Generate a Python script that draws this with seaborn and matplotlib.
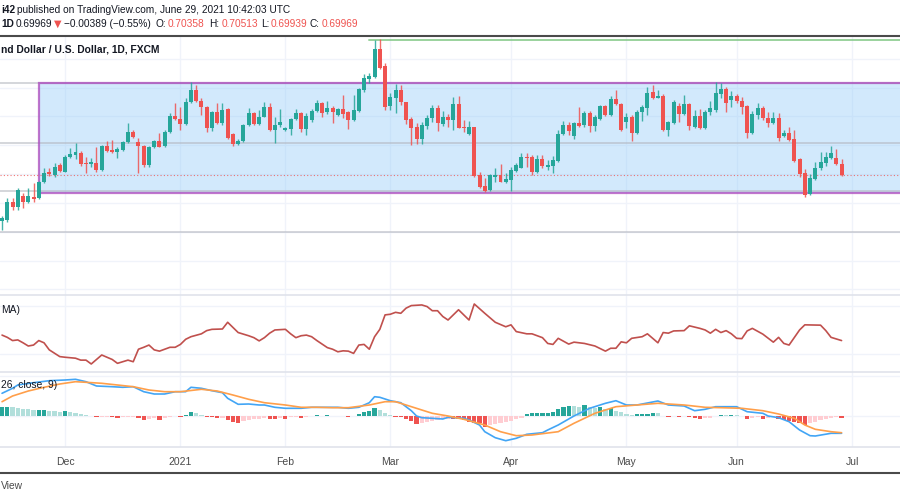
import matplotlib
matplotlib.use("Agg")
import matplotlib.pyplot as plt
from matplotlib.patches import Rectangle
from matplotlib.lines import Line2D
import numpy as np
import pandas as pd
import seaborn as sns

# ---- daily candles NZD/USD (FXCM) ----
opens = [
    0.6837, 0.6841, 0.6903, 0.6886, 0.6924, 0.6903, 0.6920, 0.6917, 0.6972, 0.7007,
    0.6997, 0.7031, 0.7007, 0.7059, 0.7066, 0.7073, 0.7038, 0.7035, 0.7038, 0.7014,
    0.7097, 0.7084, 0.7077, 0.7084, 0.7111, 0.7146, 0.7111, 0.7097, 0.7031, 0.7094,
    0.7115, 0.7097, 0.7146, 0.7201, 0.7191, 0.7174, 0.7250, 0.7292, 0.7254, 0.7233,
    0.7160, 0.7215, 0.7177, 0.7226, 0.7139, 0.7104, 0.7115, 0.7170, 0.7212, 0.7174,
    0.7198, 0.7233, 0.7153, 0.7170, 0.7153, 0.7156, 0.7191, 0.7212, 0.7156, 0.7188,
    0.7219, 0.7247, 0.7215, 0.7229, 0.7205, 0.7226, 0.7215, 0.7188, 0.7219, 0.7292,
    0.7330, 0.7337, 0.7434, 0.7375, 0.7236, 0.7264, 0.7292, 0.7250, 0.7191, 0.7163,
    0.7122, 0.7167, 0.7195, 0.7229, 0.7174, 0.7198, 0.7188, 0.7243, 0.7163, 0.7139,
    0.7163, 0.6997, 0.6959, 0.6945, 0.6990, 0.6997, 0.6972, 0.6979, 0.7011, 0.7021,
    0.7059, 0.7059, 0.7007, 0.7052, 0.7025, 0.7028, 0.7045, 0.7139, 0.7170, 0.7132,
    0.7177, 0.7170, 0.7212, 0.7167, 0.7191, 0.7236, 0.7205, 0.7260, 0.7243, 0.7181,
    0.7198, 0.7142, 0.7215, 0.7229, 0.7285, 0.7264, 0.7271, 0.7153, 0.7177, 0.7236,
    0.7208, 0.7243, 0.7163, 0.7201, 0.7160, 0.7215, 0.7222, 0.7278, 0.7295, 0.7257,
    0.7271, 0.7254, 0.7236, 0.7142, 0.7205, 0.7229, 0.7195, 0.7177, 0.7195, 0.7132,
    0.7142, 0.7122, 0.7052, 0.7004, 0.6931, 0.6983, 0.7021, 0.7038, 0.7056, 0.7056,
    0.70358,
]
highs = [
    0.6854, 0.6917, 0.6917, 0.6952, 0.6934, 0.6952, 0.6969, 0.6976, 0.7021, 0.7021,
    0.7038, 0.7038, 0.7066, 0.7090, 0.7108, 0.7080, 0.7059, 0.7056, 0.7094, 0.7101,
    0.7115, 0.7118, 0.7094, 0.7115, 0.7177, 0.7153, 0.7125, 0.7101, 0.7097, 0.7118,
    0.7142, 0.7153, 0.7212, 0.7247, 0.7233, 0.7264, 0.7319, 0.7309, 0.7264, 0.7236,
    0.7219, 0.7247, 0.7247, 0.7229, 0.7142, 0.7122, 0.7174, 0.7229, 0.7215, 0.7222,
    0.7250, 0.7247, 0.7198, 0.7226, 0.7163, 0.7195, 0.7226, 0.7215, 0.7212, 0.7226,
    0.7257, 0.7250, 0.7254, 0.7236, 0.7229, 0.7274, 0.7219, 0.7274, 0.7299, 0.7347,
    0.7351, 0.7465, 0.7469, 0.7385, 0.7281, 0.7313, 0.7309, 0.7250, 0.7198, 0.7177,
    0.7181, 0.7205, 0.7240, 0.7240, 0.7219, 0.7208, 0.7267, 0.7271, 0.7188, 0.7184,
    0.7163, 0.7007, 0.6986, 0.7000, 0.7021, 0.7035, 0.7004, 0.7025, 0.7038, 0.7073,
    0.7073, 0.7066, 0.7066, 0.7066, 0.7049, 0.7063, 0.7153, 0.7184, 0.7181, 0.7181,
    0.7233, 0.7219, 0.7219, 0.7205, 0.7240, 0.7240, 0.7271, 0.7292, 0.7247, 0.7212,
    0.7205, 0.7222, 0.7240, 0.7302, 0.7309, 0.7292, 0.7278, 0.7184, 0.7257, 0.7247,
    0.7274, 0.7247, 0.7222, 0.7226, 0.7222, 0.7254, 0.7319, 0.7316, 0.7302, 0.7288,
    0.7278, 0.7267, 0.7240, 0.7219, 0.7247, 0.7236, 0.7215, 0.7215, 0.7212, 0.7153,
    0.7163, 0.7153, 0.7056, 0.7018, 0.7000, 0.7042, 0.7077, 0.7077, 0.7097, 0.7087,
    0.70513,
]
lows = [
    0.6806, 0.6834, 0.6875, 0.6875, 0.6882, 0.6900, 0.6903, 0.6913, 0.6969, 0.6993,
    0.6990, 0.7007, 0.7007, 0.7056, 0.7052, 0.7028, 0.7004, 0.7025, 0.7007, 0.7011,
    0.7077, 0.7073, 0.7056, 0.7080, 0.7108, 0.7125, 0.7004, 0.7025, 0.7025, 0.7090,
    0.7094, 0.7094, 0.7142, 0.7188, 0.7153, 0.7170, 0.7247, 0.7250, 0.7205, 0.7146,
    0.7149, 0.7174, 0.7170, 0.7122, 0.7097, 0.7101, 0.7111, 0.7167, 0.7170, 0.7170,
    0.7198, 0.7149, 0.7108, 0.7163, 0.7149, 0.7136, 0.7188, 0.7146, 0.7136, 0.7181,
    0.7215, 0.7198, 0.7208, 0.7177, 0.7201, 0.7195, 0.7156, 0.7184, 0.7215, 0.7285,
    0.7316, 0.7333, 0.7365, 0.7222, 0.7222, 0.7212, 0.7240, 0.7174, 0.7101, 0.7104,
    0.7104, 0.7156, 0.7181, 0.7149, 0.7167, 0.7163, 0.7153, 0.7160, 0.7146, 0.7136,
    0.6990, 0.6952, 0.6938, 0.6941, 0.6972, 0.6972, 0.6969, 0.6941, 0.7007, 0.7021,
    0.7025, 0.6997, 0.7004, 0.7021, 0.7014, 0.7004, 0.7042, 0.7136, 0.7136, 0.7122,
    0.7163, 0.7163, 0.7146, 0.7149, 0.7188, 0.7201, 0.7201, 0.7240, 0.7149, 0.7160,
    0.7115, 0.7139, 0.7184, 0.7205, 0.7260, 0.7264, 0.7149, 0.7132, 0.7174, 0.7181,
    0.7205, 0.7153, 0.7160, 0.7156, 0.7156, 0.7205, 0.7215, 0.7264, 0.7215, 0.7233,
    0.7247, 0.7208, 0.7125, 0.7139, 0.7191, 0.7188, 0.7163, 0.7174, 0.7115, 0.7129,
    0.7115, 0.7042, 0.6990, 0.6920, 0.6927, 0.6979, 0.7014, 0.7028, 0.7052, 0.7031,
    0.69939,
]
closes = [
    0.6848, 0.6903, 0.6886, 0.6945, 0.6903, 0.6924, 0.6913, 0.6972, 0.7004, 0.7000,
    0.7025, 0.7011, 0.7059, 0.7070, 0.7077, 0.7035, 0.7035, 0.7042, 0.7014, 0.7097,
    0.7080, 0.7077, 0.7087, 0.7111, 0.7146, 0.7129, 0.7097, 0.7031, 0.7094, 0.7115,
    0.7094, 0.7146, 0.7201, 0.7191, 0.7174, 0.7250, 0.7292, 0.7254, 0.7233, 0.7160,
    0.7215, 0.7177, 0.7222, 0.7125, 0.7104, 0.7115, 0.7170, 0.7212, 0.7174, 0.7198,
    0.7233, 0.7153, 0.7170, 0.7181, 0.7160, 0.7191, 0.7212, 0.7156, 0.7201, 0.7219,
    0.7247, 0.7212, 0.7229, 0.7215, 0.7226, 0.7208, 0.7188, 0.7222, 0.7295, 0.7333,
    0.7340, 0.7434, 0.7368, 0.7233, 0.7267, 0.7292, 0.7250, 0.7188, 0.7160, 0.7122,
    0.7170, 0.7195, 0.7229, 0.7177, 0.7198, 0.7188, 0.7243, 0.7160, 0.7160, 0.7163,
    0.6993, 0.6955, 0.6941, 0.6997, 0.6997, 0.6972, 0.6983, 0.7014, 0.7031, 0.7059,
    0.7056, 0.7007, 0.7052, 0.7028, 0.7031, 0.7049, 0.7139, 0.7170, 0.7149, 0.7177,
    0.7167, 0.7212, 0.7167, 0.7198, 0.7236, 0.7205, 0.7260, 0.7243, 0.7153, 0.7198,
    0.7142, 0.7215, 0.7233, 0.7281, 0.7264, 0.7271, 0.7153, 0.7181, 0.7250, 0.7208,
    0.7243, 0.7167, 0.7201, 0.7160, 0.7215, 0.7229, 0.7281, 0.7295, 0.7247, 0.7271,
    0.7254, 0.7233, 0.7142, 0.7208, 0.7229, 0.7195, 0.7177, 0.7195, 0.7125, 0.7142,
    0.7118, 0.7045, 0.7000, 0.6927, 0.6986, 0.7021, 0.7042, 0.7059, 0.7073, 0.7035,
    0.69969,
]

# ---- ATR (14, RMA) line, vertices (bar number, value) ----
atr_bar = [0, 1, 2, 3, 4, 5, 6, 7, 8, 9, 11, 12, 14, 15, 16, 17, 18, 19, 21, 22,
           23, 24, 25, 26, 27, 28, 29, 30, 31, 32, 33, 34, 35, 36, 38, 39, 40, 42, 43, 44,
           45, 47, 48, 49, 50, 51, 52, 54, 55, 56, 57, 58, 59, 60, 61, 62, 63, 64, 65, 66,
           67, 68, 69, 70, 71, 72, 73, 74, 75, 76, 77, 78, 80, 81, 82, 83, 84, 85, 87, 89,
           90, 92, 94, 96, 97, 98, 100, 101, 103, 104, 105, 106, 108, 109, 111, 113, 115, 116, 117, 118,
           119, 120, 122, 123, 125, 126, 127, 128, 130, 131, 133, 134, 135, 136, 137, 138, 139, 140, 141, 142,
           143, 145, 147, 148, 149, 150, 152, 153, 156, 157, 158, 160]
atr_val = [0.00659, 0.00652, 0.00642, 0.00644, 0.00635, 0.00625, 0.00628, 0.00642, 0.00635, 0.00613,
           0.00592, 0.00590, 0.00587, 0.00581, 0.00581, 0.00569, 0.00583, 0.00597, 0.00583, 0.00571,
           0.00576, 0.00581, 0.00576, 0.00615, 0.00621, 0.00628, 0.00613, 0.00609, 0.00615, 0.00621,
           0.00621, 0.00630, 0.00646, 0.00654, 0.00663, 0.00673, 0.00677, 0.00678, 0.00699, 0.00683,
           0.00667, 0.00657, 0.00651, 0.00641, 0.00651, 0.00665, 0.00675, 0.00677, 0.00663, 0.00651,
           0.00657, 0.00659, 0.00654, 0.00642, 0.00631, 0.00620, 0.00615, 0.00607, 0.00610, 0.00609,
           0.00602, 0.00628, 0.00630, 0.00615, 0.00654, 0.00677, 0.00722, 0.00724, 0.00730, 0.00727,
           0.00743, 0.00751, 0.00753, 0.00748, 0.00735, 0.00735, 0.00717, 0.00706, 0.00738, 0.00706,
           0.00756, 0.00727, 0.00699, 0.00685, 0.00691, 0.00670, 0.00663, 0.00663, 0.00651, 0.00633,
           0.00630, 0.00649, 0.00631, 0.00637, 0.00633, 0.00625, 0.00609, 0.00618, 0.00618, 0.00638,
           0.00635, 0.00649, 0.00654, 0.00663, 0.00635, 0.00667, 0.00665, 0.00672, 0.00673, 0.00688,
           0.00680, 0.00675, 0.00665, 0.00677, 0.00667, 0.00673, 0.00663, 0.00649, 0.00648, 0.00672,
           0.00680, 0.00662, 0.00637, 0.00652, 0.00633, 0.00628, 0.00675, 0.00691, 0.00690, 0.00673,
           0.00652, 0.00642]

# ---- MACD (12, 26, close, 9) ----
macd_bar = [0, 2, 3, 6, 9, 12, 14, 16, 18, 21, 23, 25, 27, 29, 31, 33, 35, 36, 38, 40,
            42, 43, 45, 47, 49, 50, 52, 54, 57, 59, 61, 64, 66, 68, 70, 71, 72, 74, 76, 78,
            79, 80, 82, 84, 85, 88, 89, 91, 92, 94, 96, 98, 100, 103, 104, 106, 109, 112, 115, 117,
            119, 121, 125, 127, 130, 132, 134, 136, 140, 142, 145, 146, 148, 150, 152, 154, 155, 158, 160]
macd_val = [0.00227, 0.00277, 0.00310, 0.00333, 0.00353, 0.00360, 0.00367, 0.00343, 0.00300, 0.00293,
            0.00287, 0.00293, 0.00243, 0.00220, 0.00220, 0.00243, 0.00243, 0.00287, 0.00277, 0.00253,
            0.00233, 0.00177, 0.00117, 0.00120, 0.00110, 0.00110, 0.00087, 0.00077, 0.00077, 0.00087,
            0.00087, 0.00087, 0.00077, 0.00087, 0.00133, 0.00193, 0.00187, 0.00153, 0.00133, 0.00053,
            0.00000, -0.00017, -0.00023, -0.00030, -0.00013, -0.00023, -0.00040, -0.00090, -0.00157, -0.00217,
            -0.00247, -0.00223, -0.00183, -0.00167, -0.00140, -0.00090, 0.00000, 0.00077, 0.00127, 0.00153,
            0.00110, 0.00110, 0.00150, 0.00110, 0.00100, 0.00053, 0.00067, 0.00093, 0.00093, 0.00043,
            0.00027, 0.00000, -0.00017, -0.00057, -0.00140, -0.00197, -0.00200, -0.00173, -0.00173]
signal_bar = [0, 2, 5, 8, 11, 14, 16, 19, 22, 25, 28, 31, 34, 38, 41, 44, 47, 50, 54, 57,
              60, 63, 66, 70, 73, 75, 77, 80, 82, 85, 88, 92, 95, 98, 101, 106, 109, 113, 117, 121,
              125, 130, 134, 137, 141, 145, 148, 151, 153, 155, 158, 160]
signal_val = [0.00143, 0.00200, 0.00250, 0.00287, 0.00320, 0.00343, 0.00337, 0.00327, 0.00310, 0.00293,
              0.00260, 0.00243, 0.00243, 0.00267, 0.00250, 0.00210, 0.00167, 0.00133, 0.00110, 0.00087,
              0.00087, 0.00083, 0.00083, 0.00110, 0.00143, 0.00143, 0.00110, 0.00060, 0.00027, 0.00000,
              -0.00033, -0.00090, -0.00157, -0.00197, -0.00190, -0.00157, -0.00073, 0.00027, 0.00093, 0.00110,
              0.00127, 0.00110, 0.00087, 0.00083, 0.00077, 0.00053, 0.00020, -0.00023, -0.00090, -0.00133,
              -0.00157, -0.00167]
hist = [
    0.00087, 0.00093, 0.00087, 0.00080, 0.00073, 0.00070, 0.00058, 0.00060, 0.00062, 0.00053,
    0.00050, 0.00043, 0.00050, 0.00040, 0.00030, 0.00017, 0.00007, -0.00003, -0.00013, -0.00010,
    -0.00007, -0.00013, -0.00017, -0.00010, -0.00007, -0.00006, -0.00020, -0.00040, -0.00033, -0.00023,
    -0.00037, -0.00020, -0.00007, -0.00003, -0.00007, 0.00013, 0.00043, 0.00033, 0.00013, -0.00007,
    -0.00010, -0.00020, -0.00017, -0.00040, -0.00060, -0.00073, -0.00050, -0.00040, -0.00033, -0.00027,
    -0.00023, -0.00030, -0.00032, -0.00017, -0.00027, -0.00013, -0.00010, -0.00017, -0.00007, -0.00003,
    0.00007, 0.00003, 0.00007, 0.00003, 0.00001, -0.00003, -0.00010, -0.00003, 0.00020, 0.00043,
    0.00053, 0.00077, 0.00060, 0.00030, 0.00013, -0.00007, -0.00010, -0.00027, -0.00047, -0.00080,
    -0.00073, -0.00057, -0.00047, -0.00040, -0.00033, -0.00027, -0.00030, -0.00033, -0.00040, -0.00057,
    -0.00067, -0.00073, -0.00107, -0.00090, -0.00083, -0.00073, -0.00063, -0.00050, -0.00033, -0.00017,
    0.00020, 0.00027, 0.00030, 0.00031, 0.00033, 0.00043, 0.00067, 0.00093, 0.00100, 0.00097,
    0.00087, 0.00110, 0.00087, 0.00077, 0.00093, 0.00073, 0.00077, 0.00053, 0.00043, 0.00020,
    0.00007, 0.00017, 0.00018, 0.00020, 0.00033, 0.00030, -0.00003, -0.00010, -0.00003, -0.00010,
    -0.00003, -0.00013, -0.00017, -0.00030, -0.00023, -0.00017, -0.00003, 0.00013, 0.00010, 0.00013,
    0.00007, -0.00003, -0.00027, -0.00023, -0.00007, -0.00027, -0.00023, -0.00007, -0.00033, -0.00040,
    -0.00050, -0.00057, -0.00073, -0.00090, -0.00073, -0.00057, -0.00040, -0.00027, -0.00017, -0.00010,
    -0.00017,
]

# ---- drawings on the price pane ----
box_start = "2020-11-24"
box_top, box_bottom = 0.7316, 0.6934
peak_line_start = "2021-02-23"
peak_level = 0.7465
grey_levels = [0.7316, 0.7108, 0.6941, 0.6799]
last_price = 0.69969
month_labels = ["Dec", "2021", "Feb", "Mar", "Apr", "May", "Jun", "Jul"]

UP, DOWN = "#26a69a", "#ef5350"
TXT = "#131722"
GRID = "#f0f3fa"

# trading days (FXCM skips Christmas and New Year)
days = pd.bdate_range("2020-11-13", "2021-07-01")
days = days[~days.isin(pd.to_datetime(["2020-12-25", "2021-01-01"]))]
month_pos = [i for i in range(len(days)) if i == 0 or days[i].month != days[i - 1].month][1:]

o, h, l, c = (np.array(v) for v in (opens, highs, lows, closes))
bars = np.arange(len(o))

sns.set_theme(style="white")
plt.rcParams["font.family"] = ["Liberation Sans", "DejaVu Sans"]

fig = plt.figure(figsize=(9, 5), dpi=100)
fig.patch.set_facecolor("white")


def pane(top, bottom):
    a = fig.add_axes([0, 1 - bottom / 500, 1, (bottom - top) / 500])
    for s in a.spines.values():
        s.set_visible(False)
    a.set_xlim(-0.39, 171.14)
    a.set_xticks(month_pos)
    a.grid(True, color=GRID, lw=1)
    a.tick_params(length=0, labelleft=False, labelbottom=False)
    a.set_axisbelow(True)
    return a


ax = pane(36, 295)
ax_atr = pane(295, 372)
ax_macd = pane(372, 447)

# price pane
ax.set_ylim(0.65804, 0.74791)
ax.set_yticks(np.arange(0.66, 0.745, 0.01))
x0 = days.get_loc(pd.Timestamp(box_start))
ax.add_patch(Rectangle((x0, box_bottom), 300, box_top - box_bottom, fc="#90caf9", alpha=0.4, lw=0, zorder=1))
ax.add_patch(Rectangle((x0, box_bottom), 300, box_top - box_bottom, fill=False, ec="#ab47bc", alpha=0.75, lw=1.6, zorder=2))
for lev in grey_levels:
    ax.axhline(lev, color="#b2b5be", lw=1.1, alpha=0.7, zorder=1)
xp = days.get_loc(pd.Timestamp(peak_line_start))
ax.plot([xp, 300], [peak_level, peak_level], color="#81c784", lw=1.4, alpha=0.8, zorder=2)
ax.axhline(last_price, color=DOWN, lw=0.8, ls=(0, (1, 2)), alpha=0.8, zorder=2)

cols = np.where(c >= o, UP, DOWN)
ax.vlines(bars, l, h, colors=cols, lw=1, alpha=0.85, zorder=3)
ax.bar(bars, np.maximum(np.abs(c - o), 0.00012), bottom=np.minimum(o, c), width=0.76,
       color=cols, lw=0, zorder=4)

# ATR pane
ax_atr.set_ylim(0.00544, 0.00784)
ax_atr.set_yticks([0.0060, 0.0075])
sns.lineplot(x=atr_bar, y=atr_val, ax=ax_atr, color="#c0504d", lw=1.2)
ax_atr.set_xlim(-0.39, 171.14)

# MACD pane
ax_macd.set_ylim(-0.0031, 0.0044)
ax_macd.set_yticks([0.0, 0.004])
hcols = []
prev = 0.0
for v in hist:
    if v >= 0:
        hcols.append(UP if v > prev else "#b2dfdb")
    else:
        hcols.append(DOWN if v < prev else "#ffcdd2")
    prev = v
ax_macd.bar(bars, hist, width=0.8, color=hcols, lw=0, zorder=2)
sns.lineplot(x=macd_bar, y=macd_val, ax=ax_macd, color="#42a5f5", lw=1.2, zorder=3)
sns.lineplot(x=signal_bar, y=signal_val, ax=ax_macd, color="#ff9f4a", lw=1.2, zorder=3)
ax_macd.set_xlim(-0.39, 171.14)
for a in (ax_atr, ax_macd):
    a.set_xlabel("")
    a.set_ylabel("")
ax_macd.set_xticklabels(month_labels)
ax_macd.tick_params(labelbottom=True, pad=7, labelsize=7.5, labelcolor="#4a4a4a")


# separators and frame lines (pixel positions)
def hline_px(y, color, lw):
    fig.add_artist(Line2D([0, 1], [1 - y / 500] * 2, color=color, lw=lw, transform=fig.transFigure))


hline_px(36, "#4a4a4a", 1.5)
hline_px(295, "#e0e3eb", 1.2)
hline_px(372, "#e0e3eb", 1.2)
hline_px(447, "#e0e3eb", 1.2)
hline_px(473, "#4a4a4a", 1.5)


def txt(x, y, s, **kw):
    kw.setdefault("color", TXT)
    kw.setdefault("fontsize", 7.3)
    fig.text(x / 900, 1 - y / 500, s, va="center", ha="left", **kw)


# header
txt(1, 10, "i42", fontweight="bold")
txt(17, 10, "published on TradingView.com, June 29, 2021 10:42:03 UTC")
txt(1, 24, "1D", fontweight="bold")
txt(16, 24, "0.69969")
txt(54, 24, "\u25bc", color=DOWN, fontsize=7, family=["DejaVu Sans"])
txt(64, 24, "\u22120.00389 (\u22120.55%)")
for x_lab, lab, x_val, val in [(156, "O:", 168, "0.70358"), (209, "H:", 222, "0.70513"),
                               (261, "L:", 271, "0.69939"), (310, "C:", 322, "0.69969")]:
    txt(x_lab, 24, lab)
    txt(x_val, 24, val, color=DOWN)

# pane titles
txt(1, 50, "nd Dollar / U.S. Dollar, 1D, FXCM", fontweight="bold", fontsize=7.4)
txt(1, 310, "MA)", fontsize=7.4)
txt(1, 385, "26, close, 9)", fontsize=7.4)
txt(1, 486, "View", fontsize=7.4, color="#4a4a4a")

fig.savefig("out.png", dpi=100, facecolor="white")
